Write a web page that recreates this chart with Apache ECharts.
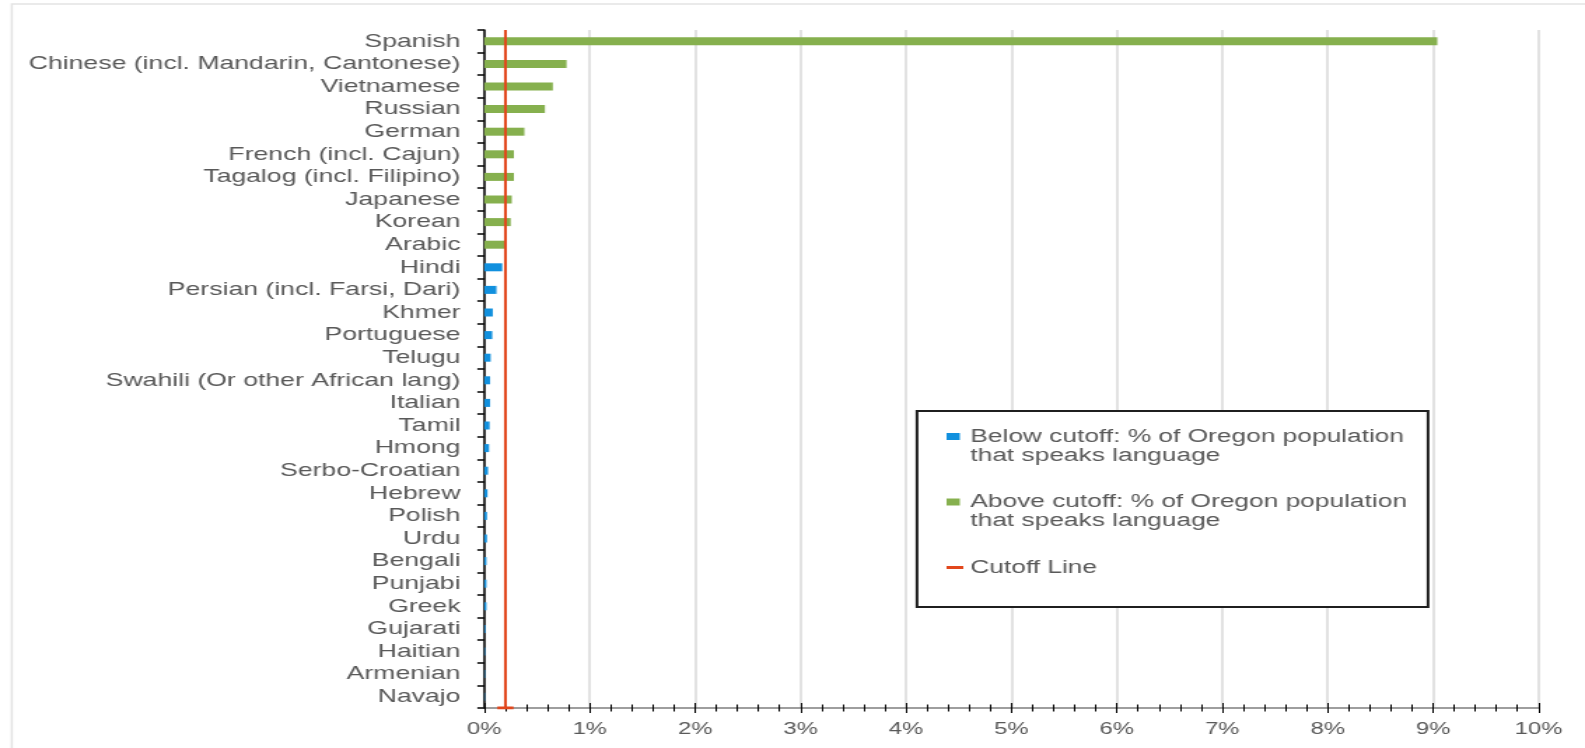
<!DOCTYPE html>
<html>
<head>
<meta charset="utf-8">
<script src="https://cdn.jsdelivr.net/npm/echarts@6/dist/echarts.min.js"></script>
<style>
  html, body { margin: 0; padding: 0; background: #fff; width: 1585px; height: 748px; overflow: hidden; }
  /* the chart is laid out narrower and widened to the page width */
  #chart { width: 1132px; height: 748px; transform: scaleX(1.400177); transform-origin: 0 0; }
</style>
</head>
<body>
<div id="chart"></div>
<script>
// Languages spoken in Oregon, largest first
const languages = [
  'Spanish', 'Chinese (incl. Mandarin, Cantonese)', 'Vietnamese', 'Russian', 'German',
  'French (incl. Cajun)', 'Tagalog (incl. Filipino)', 'Japanese', 'Korean', 'Arabic',
  'Hindi', 'Persian (incl. Farsi, Dari)', 'Khmer', 'Portuguese', 'Telugu',
  'Swahili (Or other African lang)', 'Italian', 'Tamil', 'Hmong', 'Serbo-Croatian',
  'Hebrew', 'Polish', 'Urdu', 'Bengali', 'Punjabi',
  'Greek', 'Gujarati', 'Haitian', 'Armenian', 'Navajo'
];

// % of Oregon population that speaks each language, split by the cutoff
const aboveCutoff = [
  9.04, 0.78, 0.65, 0.575, 0.38, 0.28, 0.28, 0.26, 0.25, 0.19,
  '-', '-', '-', '-', '-', '-', '-', '-', '-', '-',
  '-', '-', '-', '-', '-', '-', '-', '-', '-', '-'
];
const belowCutoff = [
  '-', '-', '-', '-', '-', '-', '-', '-', '-', '-',
  0.17, 0.115, 0.08, 0.075, 0.06, 0.055, 0.055, 0.05, 0.045, 0.035,
  0.03, 0.025, 0.025, 0.02, 0.02, 0.02, 0.01, 0.007, 0.006, 0.005
];

// Cutoff marker: vertical line at the cutoff share, with a short cap on the axis
const cutoff = 0.2;
const capHalfWidth = 0.077;

// Percentage axis
const xMin = 0, xMax = 10, xStep = 1;

const BELOW = 'Below cutoff: % of Oregon population\nthat speaks language';
const ABOVE = 'Above cutoff: % of Oregon population\nthat speaks language';
const CUT = 'Cutoff Line';

const FONT = '"Liberation Sans", Arial, Helvetica, sans-serif';
const TEXT = '#595959';
const SQUARE_ICON = 'path://M0,0h9.5v7h-9.5zM12,0';
const LINE_ICON = 'path://M0,2h12v3h-12zM0,0M0,7';

const chart = echarts.init(document.getElementById('chart'), null, { renderer: 'canvas' });

const valueAxisBase = {
  type: 'value', min: xMin, max: xMax, interval: xStep, position: 'bottom', gridIndex: 0
};

chart.setOption({
  animation: false,
  backgroundColor: '#fff',
  grid: { left: 345.9, right: 33.2, top: 30, bottom: 40, containLabel: false },
  xAxis: [
    Object.assign({}, valueAxisBase, {
      axisLine: { show: true, lineStyle: { color: '#7f7f7f', width: 1.5 } },
      axisTick: { show: true, inside: false, length: 5, lineStyle: { color: '#000', width: 1 } },
      minorTick: { show: true, splitNumber: 5, length: 3.5, lineStyle: { color: '#000', width: 1 } },
      splitLine: { show: true, lineStyle: { color: '#d9d9d9', width: 1.5 } },
      axisLabel: { show: true, formatter: '{value}%', fontSize: 17, color: TEXT, fontFamily: FONT, margin: 13 }
    }),
    Object.assign({}, valueAxisBase, {
      axisLine: { show: false },
      axisTick: { show: true, inside: true, length: 5, lineStyle: { color: '#000', width: 1 } },
      minorTick: { show: true, splitNumber: 5, length: 3.5, lineStyle: { color: '#000', width: 1 } },
      splitLine: { show: false },
      axisLabel: { show: false }
    })
  ],
  yAxis: [
    {
      type: 'category',
      data: languages,
      inverse: true,
      axisLine: { show: true, lineStyle: { color: '#000', width: 1.5 } },
      axisTick: { show: true, length: 5, interval: 0, lineStyle: { color: '#000', width: 1.5 } },
      axisLabel: { interval: 0, fontSize: 19, color: TEXT, fontFamily: FONT, margin: 17 },
      splitLine: { show: false }
    },
    { type: 'value', min: 0, max: 1, show: false }
  ],
  legend: {
    orient: 'vertical',
    left: 676,
    top: 408,
    padding: 0,
    itemGap: 8.5,
    itemWidth: 12,
    itemHeight: 7,
    selectedMode: false,
    // a blank first line keeps each icon level with the first line of its label
    formatter: function (name) { return '\n' + name + (name === CUT ? '\n' : ''); },
    textStyle: { fontSize: 18.8, color: TEXT, fontFamily: FONT, lineHeight: 19 },
    data: [
      { name: BELOW, icon: SQUARE_ICON },
      { name: ABOVE, icon: SQUARE_ICON },
      { name: CUT, icon: LINE_ICON }
    ]
  },
  graphic: [
    {
      type: 'polyline', z: -10, silent: true,
      shape: { points: [[8.4, 760], [8.4, 4], [1140, 4]] },
      style: { stroke: '#e4e4e4', lineWidth: 1.5, fill: null }
    },
    {
      type: 'rect', z: 3, silent: true,
      shape: { x: 654.9, y: 411, width: 365, height: 196 },
      style: { fill: '#fff', stroke: '#1f1f1f', lineWidth: 2 }
    }
  ],
  series: [
    {
      name: ABOVE, type: 'bar', data: aboveCutoff, barWidth: 8, barGap: '-100%',
      itemStyle: { color: '#86b04e' }
    },
    {
      name: BELOW, type: 'bar', data: belowCutoff, barWidth: 8, barGap: '-100%',
      itemStyle: { color: '#1190de' }
    },
    {
      name: CUT, type: 'line', xAxisIndex: 0, yAxisIndex: 1, z: 5,
      data: [[cutoff, 0], [cutoff, 1]], symbol: 'none', color: '#e2471c',
      lineStyle: { color: '#e2471c', width: 2 }
    },
    {
      name: CUT, type: 'line', xAxisIndex: 0, yAxisIndex: 1, z: 5,
      data: [[cutoff - capHalfWidth, 0], [cutoff + capHalfWidth, 0]], symbol: 'none', color: '#e2471c',
      lineStyle: { color: '#e2471c', width: 3 }
    }
  ]
});
</script>
</body>
</html>
